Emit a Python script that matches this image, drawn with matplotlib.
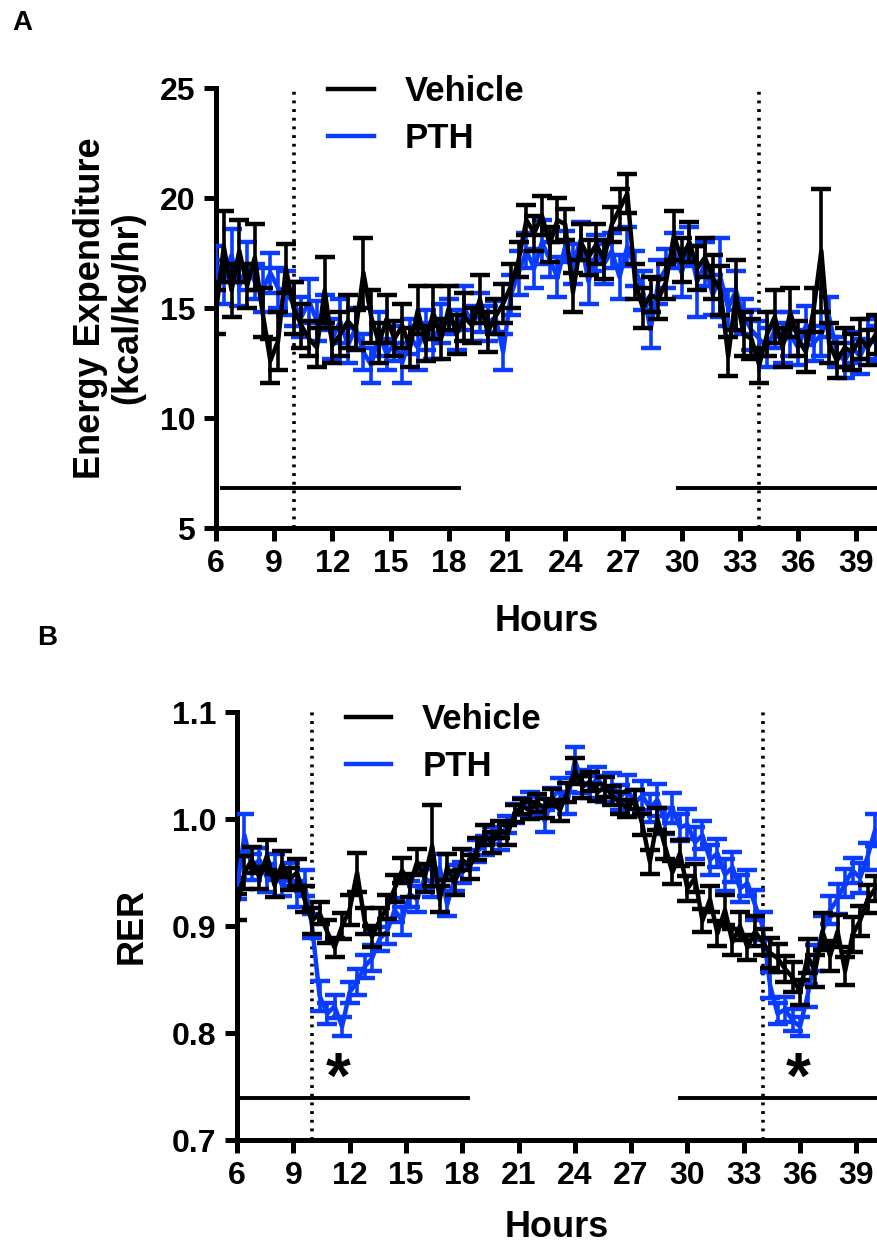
import numpy as np
import matplotlib
matplotlib.use("Agg")
import matplotlib.pyplot as plt
from matplotlib.lines import Line2D

plt.rcParams['font.family'] = ['Liberation Sans', 'DejaVu Sans']
plt.rcParams['font.weight'] = 'bold'

# Data
# ----
hours = np.round(np.arange(6.0, 40.01, 0.4), 1)

ee_vehicle = [14.8, 17.8, 15.8, 17.6, 16.0, 17.3, 14.8, 12.6, 13.5, 16.8,
              15.0, 14.2, 13.6, 13.2, 15.8, 13.3, 13.8, 14.4, 14.0, 16.6,
              14.6, 13.4, 14.5, 13.6, 14.2, 13.2, 14.9, 13.4, 14.8, 13.6,
              15.0, 13.8, 14.6, 14.2, 15.4, 13.9, 14.6, 15.2, 16.0, 17.2,
              19.0, 18.4, 19.2, 17.9, 19.0, 18.8, 15.7, 18.0, 17.3, 17.9,
              17.2, 18.8, 19.5, 20.2, 16.2, 15.0, 15.6, 15.4, 16.2, 18.3,
              17.2, 18.0, 16.8, 17.3, 16.4, 15.8, 12.8, 15.6, 13.8, 13.6,
              12.4, 13.8, 14.6, 13.2, 14.8, 13.6, 13.0, 14.9, 17.6, 13.4,
              12.6, 13.2, 13.0, 13.6, 13.2, 13.8]
ee_vehicle_sem = [1.0, 1.6, 1.2, 1.4, 1.0, 1.5, 1.1, 1.0, 1.3, 1.1,
                  1.2, 1.0, 0.8, 0.9, 1.5, 0.8, 1.0, 1.2, 0.9, 1.6,
                  1.2, 0.9, 1.1, 0.8, 1.0, 0.9, 1.1, 0.8, 1.2, 0.9,
                  1.0, 0.9, 1.1, 0.8, 1.1, 0.9, 0.8, 0.9, 1.0, 0.8,
                  0.7, 0.8, 0.9, 0.8, 1.0, 0.7, 0.9, 0.8, 0.8, 0.9,
                  0.9, 0.8, 0.9, 0.9, 0.8, 0.9, 0.8, 0.9, 0.8, 1.1,
                  1.0, 0.9, 1.0, 0.9, 1.0, 1.1, 0.9, 1.6, 1.0, 0.9,
                  0.8, 1.0, 1.2, 0.9, 1.1, 0.8, 0.9, 1.0, 2.8, 0.9,
                  0.8, 0.9, 0.8, 0.9, 0.8, 0.9]

ee_pth = [17.0, 16.2, 17.4, 16.0, 16.9, 16.2, 15.8, 16.6, 15.9, 15.7,
          15.2, 14.6, 15.3, 14.4, 14.8, 13.6, 14.4, 13.3, 14.1, 13.0,
          12.4, 13.8, 12.9, 13.4, 12.5, 13.7, 13.2, 14.0, 13.5, 14.3,
          14.6, 14.0, 15.0, 14.3, 14.8, 14.3, 14.6, 13.0, 15.6, 16.6,
          17.6, 16.8, 18.0, 17.2, 16.4, 17.8, 17.0, 18.1, 16.2, 17.5,
          17.0, 17.6, 16.4, 17.8, 16.8, 15.8, 14.0, 16.2, 16.8, 17.6,
          16.6, 17.8, 16.2, 17.0, 15.6, 16.4, 15.0, 15.8, 14.6, 14.0,
          13.6, 13.2, 14.0, 13.4, 13.8, 13.2, 14.2, 13.4, 13.8, 14.6,
          13.0, 12.6, 13.2, 12.8, 13.6, 13.4]
ee_pth_sem = [0.8, 1.0, 1.2, 0.9, 1.1, 0.8, 1.0, 0.9, 0.9, 1.0,
              1.0, 0.9, 1.0, 0.9, 0.8, 0.9, 1.0, 0.8, 0.9, 0.8,
              0.8, 1.0, 0.7, 0.8, 0.9, 0.8, 1.0, 0.9, 0.8, 0.9,
              0.8, 0.9, 1.0, 0.8, 0.9, 0.8, 0.7, 0.8, 0.9, 1.0,
              0.8, 0.9, 1.0, 0.8, 0.9, 0.7, 0.9, 0.8, 1.0, 0.8,
              0.9, 0.8, 1.0, 0.9, 0.8, 0.9, 0.8, 1.0, 0.9, 0.8,
              1.1, 0.9, 1.6, 1.0, 0.9, 1.8, 0.8, 0.9, 0.8, 0.9,
              0.8, 0.9, 0.8, 0.9, 1.0, 0.8, 0.9, 0.8, 1.0, 0.9,
              0.7, 0.8, 0.7, 0.8, 0.9, 0.8]

rer_vehicle = [0.918, 0.950, 0.962, 0.945, 0.966, 0.938, 0.958, 0.944, 0.950, 0.925,
               0.905, 0.912, 0.895, 0.880, 0.900, 0.915, 0.950, 0.905, 0.890, 0.905,
               0.918, 0.935, 0.952, 0.938, 0.960, 0.945, 0.975, 0.925, 0.955, 0.940,
               0.962, 0.955, 0.972, 0.985, 0.978, 0.990, 0.985, 1.005, 1.012, 1.008,
               1.015, 1.010, 1.020, 1.008, 1.025, 1.045, 1.030, 1.035, 1.025, 1.030,
               1.022, 1.015, 1.010, 1.018, 0.995, 0.960, 1.000, 0.975, 0.950, 0.968,
               0.935, 0.945, 0.905, 0.925, 0.893, 0.915, 0.885, 0.900, 0.880, 0.895,
               0.885, 0.875, 0.870, 0.860, 0.852, 0.838, 0.872, 0.858, 0.895, 0.872,
               0.895, 0.858, 0.892, 0.905, 0.925, 0.935]
rer_vehicle_sem = [0.012, 0.015, 0.012, 0.010, 0.014, 0.011, 0.012, 0.010, 0.013, 0.012,
                   0.012, 0.010, 0.011, 0.009, 0.012, 0.014, 0.018, 0.012, 0.010, 0.012,
                   0.011, 0.013, 0.012, 0.011, 0.012, 0.013, 0.038, 0.012, 0.012, 0.011,
                   0.010, 0.011, 0.010, 0.009, 0.010, 0.008, 0.009, 0.008, 0.007, 0.008,
                   0.008, 0.009, 0.008, 0.010, 0.009, 0.012, 0.010, 0.009, 0.008, 0.009,
                   0.009, 0.010, 0.008, 0.009, 0.010, 0.011, 0.010, 0.012, 0.011, 0.012,
                   0.012, 0.013, 0.011, 0.012, 0.012, 0.014, 0.012, 0.013, 0.012, 0.014,
                   0.012, 0.014, 0.013, 0.012, 0.014, 0.012, 0.016, 0.015, 0.017, 0.014,
                   0.015, 0.013, 0.016, 0.014, 0.013, 0.012]

rer_pth = [0.935, 0.985, 0.955, 0.962, 0.945, 0.955, 0.938, 0.948, 0.930, 0.940,
           0.900, 0.835, 0.818, 0.825, 0.806, 0.838, 0.848, 0.862, 0.870, 0.888,
           0.895, 0.915, 0.905, 0.930, 0.925, 0.945, 0.940, 0.955, 0.920, 0.945,
           0.950, 0.962, 0.970, 0.975, 0.985, 0.980, 0.995, 1.005, 1.012, 1.018,
           1.012, 0.998, 1.020, 1.028, 1.015, 1.055, 1.035, 1.030, 1.038, 1.028,
           1.032, 1.020, 1.028, 1.015, 1.022, 1.010, 1.018, 0.998, 1.010, 0.992,
           0.995, 0.978, 0.985, 0.962, 0.968, 0.948, 0.955, 0.935, 0.940, 0.920,
           0.900, 0.845, 0.818, 0.822, 0.812, 0.806, 0.835, 0.870, 0.895, 0.915,
           0.925, 0.940, 0.952, 0.945, 0.965, 0.990]
rer_pth_sem = [0.010, 0.020, 0.012, 0.011, 0.013, 0.012, 0.010, 0.011, 0.012, 0.012,
               0.011, 0.014, 0.010, 0.011, 0.009, 0.010, 0.012, 0.011, 0.012, 0.011,
               0.012, 0.011, 0.013, 0.012, 0.012, 0.011, 0.013, 0.012, 0.011, 0.012,
               0.010, 0.009, 0.010, 0.009, 0.008, 0.009, 0.008, 0.009, 0.008, 0.007,
               0.009, 0.010, 0.009, 0.010, 0.010, 0.012, 0.011, 0.010, 0.011, 0.012,
               0.011, 0.012, 0.013, 0.012, 0.014, 0.013, 0.015, 0.012, 0.014, 0.013,
               0.014, 0.015, 0.013, 0.014, 0.013, 0.015, 0.014, 0.013, 0.012, 0.014,
               0.013, 0.012, 0.010, 0.012, 0.010, 0.009, 0.011, 0.012, 0.014, 0.013,
               0.014, 0.013, 0.012, 0.014, 0.013, 0.015]

# dark phases (start, end) and lights-on times
dark_a = [(6.3, 18.5), (29.8, 40.2)]
dark_b = [(6.1, 18.3), (29.6, 40.2)]
dark_level_a = 6.8
dark_level_b = 0.739
lights = [10, 34]
star_hours = [11.4, 35.9]
star_level = 0.755

BLUE = '#0a3cff'

fig = plt.figure(figsize=(8.77, 12.45), dpi=100)
ax_a = fig.add_axes([0.2463, 0.5759, 0.7537, 0.3534])
ax_b = fig.add_axes([0.2702, 0.0843, 0.7298, 0.3438])


def draw_series(ax, y_veh, e_veh, y_pth, e_pth):
    ax.errorbar(hours, y_pth, yerr=e_pth, color=BLUE, lw=3.2, elinewidth=2.6,
                capsize=7.5, capthick=3.2, zorder=3)
    ax.errorbar(hours, y_veh, yerr=e_veh, color='black', lw=3.2, elinewidth=2.6,
                capsize=7.5, capthick=3.2, zorder=4)


def style_axes(ax, labelpad):
    for side in ['top', 'right']:
        ax.spines[side].set_visible(False)
    for side in ['left', 'bottom']:
        ax.spines[side].set_linewidth(3.6)
    ax.tick_params(width=3.6, length=9, labelsize=23, pad=6)
    ax.set_xticks(np.arange(6, 40, 3))
    ax.set_xlabel('Hours', fontsize=26, fontweight='bold', labelpad=labelpad)
    for lab in ax.get_xticklabels() + ax.get_yticklabels():
        lab.set_fontweight('bold')


# Panel A
draw_series(ax_a, ee_vehicle, ee_vehicle_sem, ee_pth, ee_pth_sem)
for x in lights:
    ax_a.axvline(x, color='black', ls=(0, (0.8, 1.6)), lw=2.6, zorder=2)
for s, e in dark_a:
    ax_a.plot([s, e], [dark_level_a, dark_level_a], color='black', lw=2.8, clip_on=False)
ax_a.set_xlim(6, 40.07)
ax_a.set_ylim(5, 25)
ax_a.set_yticks([5, 10, 15, 20, 25])
style_axes(ax_a, 18)
ax_a.set_ylabel('Energy Expenditure\n(kcal/kg/hr)', fontsize=26, fontweight='bold',
                labelpad=10, linespacing=1.1)

# Panel B
draw_series(ax_b, rer_vehicle, rer_vehicle_sem, rer_pth, rer_pth_sem)
for x in lights:
    ax_b.axvline(x, color='black', ls=(0, (0.8, 1.6)), lw=2.6, zorder=2)
for s, e in dark_b:
    ax_b.plot([s, e], [dark_level_b, dark_level_b], color='black', lw=2.8, clip_on=False)
for x in star_hours:
    ax_b.text(x, star_level, '*', fontsize=46, fontweight='bold', ha='center', va='center')
ax_b.set_xlim(6, 40.1)
ax_b.set_ylim(0.7, 1.1)
ax_b.set_yticks([0.7, 0.8, 0.9, 1.0, 1.1])
style_axes(ax_b, 14)
ax_b.set_ylabel('RER', fontsize=26, fontweight='bold', labelpad=16)

# legends
handles = [Line2D([], [], color='black', lw=3.2), Line2D([], [], color=BLUE, lw=3.2)]
for ax, anchor in [(ax_a, (0.17, 1.03)), (ax_b, (0.17, 1.02))]:
    ax.legend(handles, ['Vehicle', 'PTH'], loc='upper left', bbox_to_anchor=anchor,
              frameon=False, handlelength=1.3, handletextpad=0.9,
              labelspacing=0.4, borderaxespad=0, borderpad=0,
              prop={'weight': 'bold', 'size': 25})

fig.text(12 / 877, 1 - 23 / 1245, 'A', fontsize=20, fontweight='bold', ha='left', va='center')
fig.text(37 / 877, 1 - 638 / 1245, 'B', fontsize=20, fontweight='bold', ha='left', va='center')

fig.savefig('out.png', dpi=100)
